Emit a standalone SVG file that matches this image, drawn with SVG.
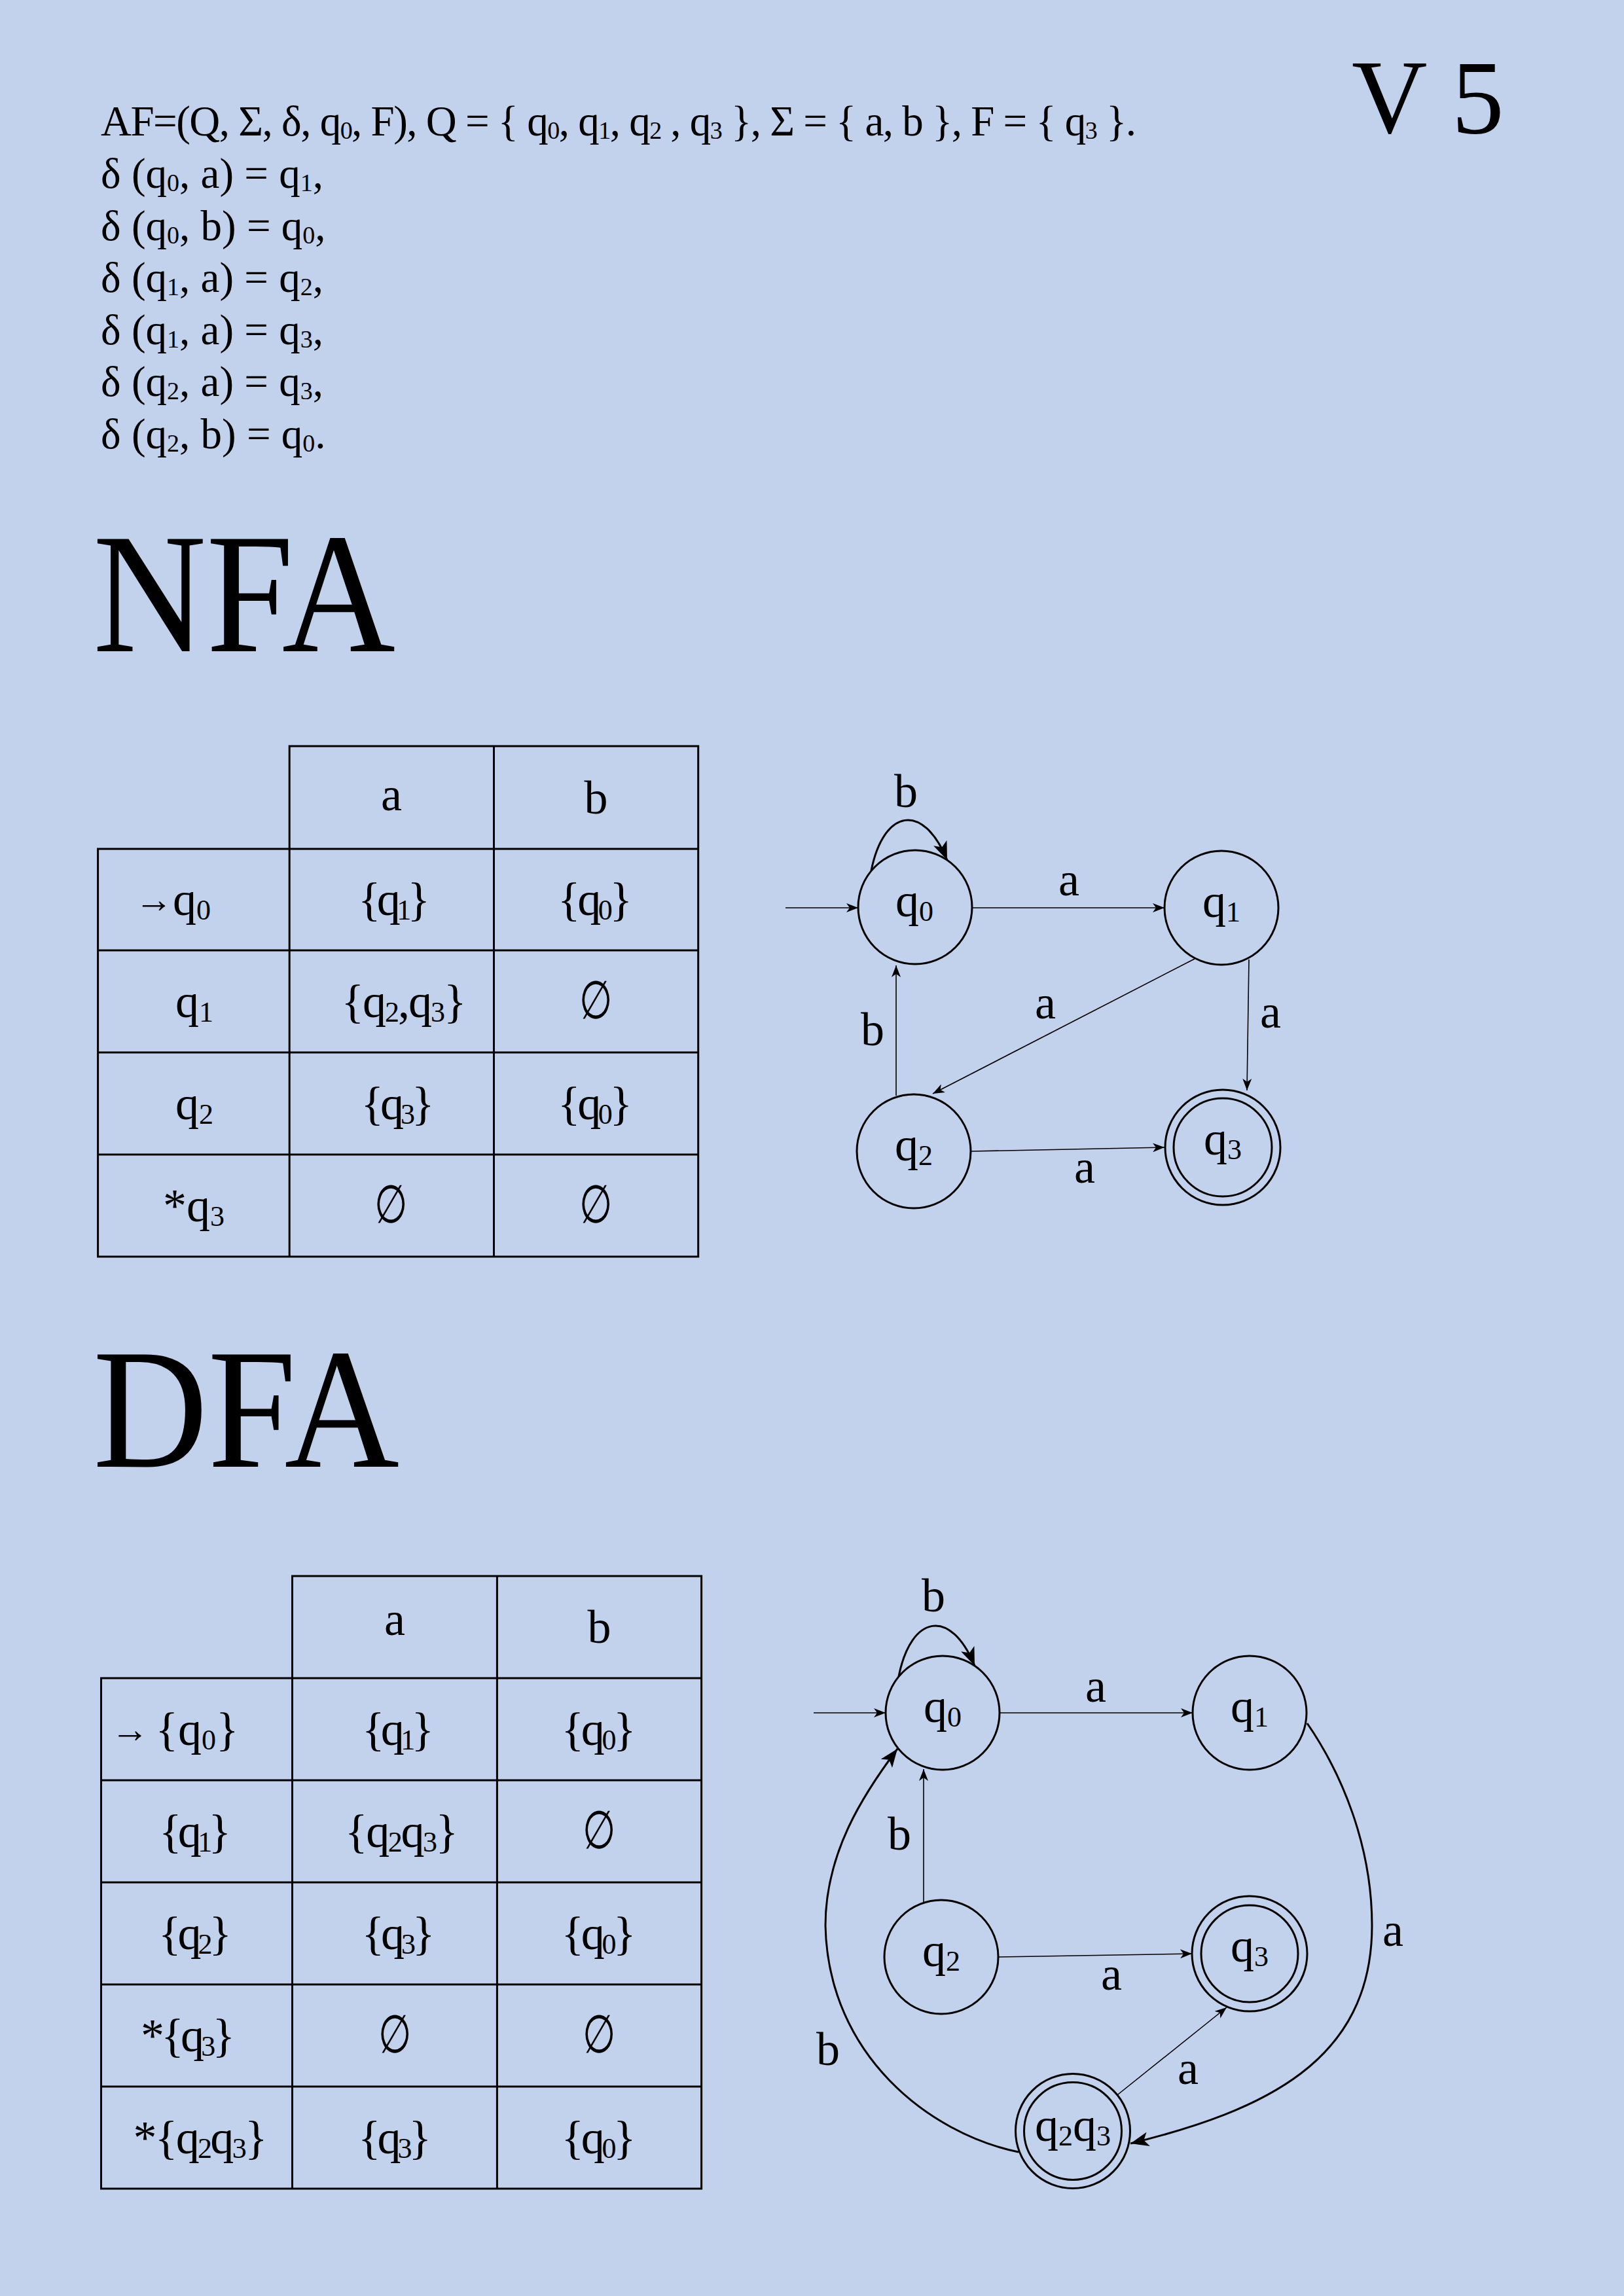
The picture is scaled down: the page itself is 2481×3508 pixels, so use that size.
<svg xmlns="http://www.w3.org/2000/svg" width="2481" height="3508" viewBox="0 0 2481 3508">
<style>
.hdr{font-family:"Liberation Serif","DejaVu Serif",serif;font-size:65px;fill:#000}
.hs{font-size:38px}
.big{font-family:"Liberation Serif","DejaVu Serif",serif;font-size:262px;fill:#000}
.ver{font-family:"Liberation Serif","DejaVu Serif",serif;font-size:160px;fill:#000}
.t{font-family:"Liberation Serif","DejaVu Serif",serif;font-size:72px;fill:#000;text-anchor:middle}
.s{font-size:44px}
.ar{font-size:58px}
.grid{fill:none;stroke:#000;stroke-width:3}
.node{fill:none;stroke:#000;stroke-width:3}
.thin{fill:none;stroke:#000;stroke-width:1.6;marker-end:url(#ah)}
.thick{fill:none;stroke:#000;stroke-width:3;marker-end:url(#ahb)}
</style>
<defs>
<marker id="ah" markerUnits="userSpaceOnUse" markerWidth="18" markerHeight="14" refX="18" refY="7" orient="auto"><path d="M0,0 L18,7 L0,14 L5,7 Z" fill="#000"/></marker>
<marker id="ahb" markerUnits="userSpaceOnUse" markerWidth="28" markerHeight="22" refX="28" refY="11" orient="auto"><path d="M0,0 L28,11 L0,22 L7,11 Z" fill="#000"/></marker>
</defs>
<rect x="0" y="0" width="2481" height="3508" fill="#c2d2ec"/>

<g id="header">
<text class="hdr" x="154" y="207" textLength="1582" lengthAdjust="spacing">AF=(Q, Σ, δ, q<tspan class="hs" dy="5">0</tspan><tspan dy="-5">, F), Q = { q</tspan><tspan class="hs" dy="5">0</tspan><tspan dy="-5">, q</tspan><tspan class="hs" dy="5">1</tspan><tspan dy="-5">, q</tspan><tspan class="hs" dy="5">2</tspan><tspan dy="-5"> , q</tspan><tspan class="hs" dy="5">3</tspan><tspan dy="-5"> },  Σ = { a, b },  F = { q</tspan><tspan class="hs" dy="5">3</tspan><tspan dy="-5"> }.</tspan></text>
<text class="hdr" x="154" y="287">δ (q<tspan class="hs" dy="5">0</tspan><tspan dy="-5">, a) = q</tspan><tspan class="hs" dy="5">1</tspan><tspan dy="-5">,</tspan></text>
<text class="hdr" x="154" y="366.5">δ (q<tspan class="hs" dy="5">0</tspan><tspan dy="-5">, b) = q</tspan><tspan class="hs" dy="5">0</tspan><tspan dy="-5">,</tspan></text>
<text class="hdr" x="154" y="446">δ (q<tspan class="hs" dy="5">1</tspan><tspan dy="-5">, a) = q</tspan><tspan class="hs" dy="5">2</tspan><tspan dy="-5">,</tspan></text>
<text class="hdr" x="154" y="525.5">δ (q<tspan class="hs" dy="5">1</tspan><tspan dy="-5">, a) = q</tspan><tspan class="hs" dy="5">3</tspan><tspan dy="-5">,</tspan></text>
<text class="hdr" x="154" y="605">δ (q<tspan class="hs" dy="5">2</tspan><tspan dy="-5">, a) = q</tspan><tspan class="hs" dy="5">3</tspan><tspan dy="-5">,</tspan></text>
<text class="hdr" x="154" y="684.5">δ (q<tspan class="hs" dy="5">2</tspan><tspan dy="-5">, b) = q</tspan><tspan class="hs" dy="5">0</tspan><tspan dy="-5">.</tspan></text>
<text class="ver" x="2065" y="203">V 5</text>
</g>

<g id="titles">
<text class="big" x="142" y="995" textLength="462" lengthAdjust="spacingAndGlyphs">NFA</text>
<text class="big" x="142" y="2241" textLength="468" lengthAdjust="spacingAndGlyphs">DFA</text>
</g>

<g id="nfa-table">
<path class="grid" d="M442.2,1140 H1066.7 V1297 H442.2 Z M754.5,1140 V1297 M149.6,1297 H1066.7 V1920 H149.6 Z M442.2,1297 V1920 M754.5,1297 V1920 M149.6,1452 H1066.7 M149.6,1608 H1066.7 M149.6,1764 H1066.7"/>
<text class="t" x="598" y="1238">a</text>
<text class="t" x="910.6" y="1243">b</text>
<text class="t" x="264" y="1398"><tspan class="ar" dy="-4">→</tspan><tspan dy="4">q</tspan><tspan class="s" dy="7">0</tspan></text>
<text class="t" x="602" y="1398" textLength="110" lengthAdjust="spacing">{q<tspan class="s" dy="7">1</tspan><tspan dy="-7">}</tspan></text>
<text class="t" x="909" y="1398" textLength="114" lengthAdjust="spacing">{q<tspan class="s" dy="7">0</tspan><tspan dy="-7">}</tspan></text>
<text class="t" x="297" y="1554">q<tspan class="s" dy="7">1</tspan></text>
<text class="t" x="617" y="1554" textLength="191" lengthAdjust="spacing">{q<tspan class="s" dy="7">2</tspan><tspan dy="-7">,q</tspan><tspan class="s" dy="7">3</tspan><tspan dy="-7">}</tspan></text>
<text class="t" transform="translate(910,1556) scale(0.8,1.12)">∅</text>
<text class="t" x="297" y="1710">q<tspan class="s" dy="7">2</tspan></text>
<text class="t" x="607.6" y="1710" textLength="112" lengthAdjust="spacing">{q<tspan class="s" dy="7">3</tspan><tspan dy="-7">}</tspan></text>
<text class="t" x="909" y="1710" textLength="114" lengthAdjust="spacing">{q<tspan class="s" dy="7">0</tspan><tspan dy="-7">}</tspan></text>
<text class="t" x="296" y="1866">*q<tspan class="s" dy="7">3</tspan></text>
<text class="t" transform="translate(597,1868) scale(0.8,1.12)">∅</text>
<text class="t" transform="translate(910,1868) scale(0.8,1.12)">∅</text>
</g>

<g id="nfa-nodes">
<g id="n-q0"><circle class="node" cx="1398" cy="1386" r="87"/><text class="t" x="1397" y="1400">q<tspan class="s" dy="7">0</tspan></text></g>
<g id="n-q1"><circle class="node" cx="1866" cy="1387" r="87"/><text class="t" x="1866" y="1401">q<tspan class="s" dy="7">1</tspan></text></g>
<g id="n-q2"><circle class="node" cx="1396" cy="1759" r="87"/><text class="t" x="1396" y="1773">q<tspan class="s" dy="7">2</tspan></text></g>
<g id="n-q3"><circle class="node" cx="1868" cy="1753" r="88"/><circle class="node" cx="1868" cy="1753" r="75"/><text class="t" x="1868" y="1764">q<tspan class="s" dy="7">3</tspan></text></g>
</g>

<g id="nfa-edges">
<path class="thin" d="M1200,1387 L1311,1387"/>
<path class="thick" d="M1331,1330 C1350,1236 1410,1225 1447,1314"/>
<path class="thin" d="M1485,1387 L1779,1387"/>
<path class="thin" d="M1825,1465 L1425,1671"/>
<path class="thin" d="M1908,1466 L1905,1666"/>
<path class="thin" d="M1369,1674 L1369,1475"/>
<path class="thin" d="M1484,1759 L1779,1753"/>
<text class="t" x="1384" y="1233">b</text>
<text class="t" x="1633" y="1368">a</text>
<text class="t" x="1597" y="1556">a</text>
<text class="t" x="1941" y="1570">a</text>
<text class="t" x="1333" y="1597">b</text>
<text class="t" x="1657" y="1807">a</text>
</g>

<g id="dfa-table">
<path class="grid" d="M446.5,2408 H1071.6 V2564 H446.5 Z M759.4,2408 V2564 M154.5,2564 H1071.6 V3344 H154.5 Z M446.5,2564 V3344 M759.4,2564 V3344 M154.5,2720 H1071.6 M154.5,2876 H1071.6 M154.5,3032 H1071.6 M154.5,3188 H1071.6"/>
<text class="t" x="603" y="2498">a</text>
<text class="t" x="915.5" y="2510">b</text>
<text class="t" x="267" y="2666"><tspan class="ar" dy="-4">→</tspan><tspan dy="4" dx="10">{q</tspan><tspan class="s" dy="7">0</tspan><tspan dy="-7">}</tspan></text>
<text class="t" x="608" y="2666" textLength="110" lengthAdjust="spacing">{q<tspan class="s" dy="7">1</tspan><tspan dy="-7">}</tspan></text>
<text class="t" x="914.6" y="2666" textLength="114" lengthAdjust="spacing">{q<tspan class="s" dy="7">0</tspan><tspan dy="-7">}</tspan></text>
<text class="t" x="298" y="2822" textLength="110" lengthAdjust="spacing">{q<tspan class="s" dy="7">1</tspan><tspan dy="-7">}</tspan></text>
<text class="t" x="613.6" y="2822" textLength="173" lengthAdjust="spacing">{q<tspan class="s" dy="7">2</tspan><tspan dy="-7">q</tspan><tspan class="s" dy="7">3</tspan><tspan dy="-7">}</tspan></text>
<text class="t" transform="translate(915,2824) scale(0.8,1.12)">∅</text>
<text class="t" x="298" y="2978" textLength="112" lengthAdjust="spacing">{q<tspan class="s" dy="7">2</tspan><tspan dy="-7">}</tspan></text>
<text class="t" x="608.6" y="2978" textLength="112" lengthAdjust="spacing">{q<tspan class="s" dy="7">3</tspan><tspan dy="-7">}</tspan></text>
<text class="t" x="914.6" y="2978" textLength="114" lengthAdjust="spacing">{q<tspan class="s" dy="7">0</tspan><tspan dy="-7">}</tspan></text>
<text class="t" x="287" y="3134" textLength="144" lengthAdjust="spacing">*{q<tspan class="s" dy="7">3</tspan><tspan dy="-7">}</tspan></text>
<text class="t" transform="translate(603,3136) scale(0.8,1.12)">∅</text>
<text class="t" transform="translate(915,3136) scale(0.8,1.12)">∅</text>
<text class="t" x="306" y="3290" textLength="205" lengthAdjust="spacing">*{q<tspan class="s" dy="7">2</tspan><tspan dy="-7">q</tspan><tspan class="s" dy="7">3</tspan><tspan dy="-7">}</tspan></text>
<text class="t" x="603" y="3290" textLength="112" lengthAdjust="spacing">{q<tspan class="s" dy="7">3</tspan><tspan dy="-7">}</tspan></text>
<text class="t" x="914.6" y="3290" textLength="114" lengthAdjust="spacing">{q<tspan class="s" dy="7">0</tspan><tspan dy="-7">}</tspan></text>
</g>

<g id="dfa-nodes">
<g id="d-q0"><circle class="node" cx="1440" cy="2617" r="87"/><text class="t" x="1440" y="2631">q<tspan class="s" dy="7">0</tspan></text></g>
<g id="d-q1"><circle class="node" cx="1909" cy="2617" r="87"/><text class="t" x="1909" y="2631">q<tspan class="s" dy="7">1</tspan></text></g>
<g id="d-q2"><circle class="node" cx="1438" cy="2990" r="87"/><text class="t" x="1438" y="3004">q<tspan class="s" dy="7">2</tspan></text></g>
<g id="d-q3"><circle class="node" cx="1909" cy="2985" r="88"/><circle class="node" cx="1909" cy="2985" r="74"/><text class="t" x="1909" y="2997">q<tspan class="s" dy="7">3</tspan></text></g>
<g id="d-q2q3"><circle class="node" cx="1639" cy="3256" r="87.5"/><circle class="node" cx="1639" cy="3256" r="74.5"/><text class="t" x="1639" y="3271">q<tspan class="s" dy="7">2</tspan><tspan dy="-7">q</tspan><tspan class="s" dy="7">3</tspan></text></g>
</g>

<g id="dfa-edges">
<path class="thin" d="M1243,2617 L1353,2617"/>
<path class="thick" d="M1373,2561 C1392,2467 1452,2456 1489,2545"/>
<path class="thin" d="M1527,2617 L1822,2617"/>
<path class="thin" d="M1411,2907 L1411,2703"/>
<path class="thin" d="M1526,2990 L1821,2985"/>
<path class="thin" d="M1708,3200 L1874,3067"/>
<path class="thick" d="M1997,2633 C2050,2710 2096,2820 2096,2942 C2096,3150 1930,3225 1727,3275"/>
<path class="thick" d="M1556,3288 C1420,3260 1265,3140 1261,2942 C1261,2830 1320,2740 1371,2672"/>
<text class="t" x="1426" y="2462">b</text>
<text class="t" x="1674" y="2600">a</text>
<text class="t" x="1374" y="2826">b</text>
<text class="t" x="1698" y="3040">a</text>
<text class="t" x="2128" y="2973">a</text>
<text class="t" x="1815" y="3184">a</text>
<text class="t" x="1265" y="3155">b</text>
</g>
</svg>
